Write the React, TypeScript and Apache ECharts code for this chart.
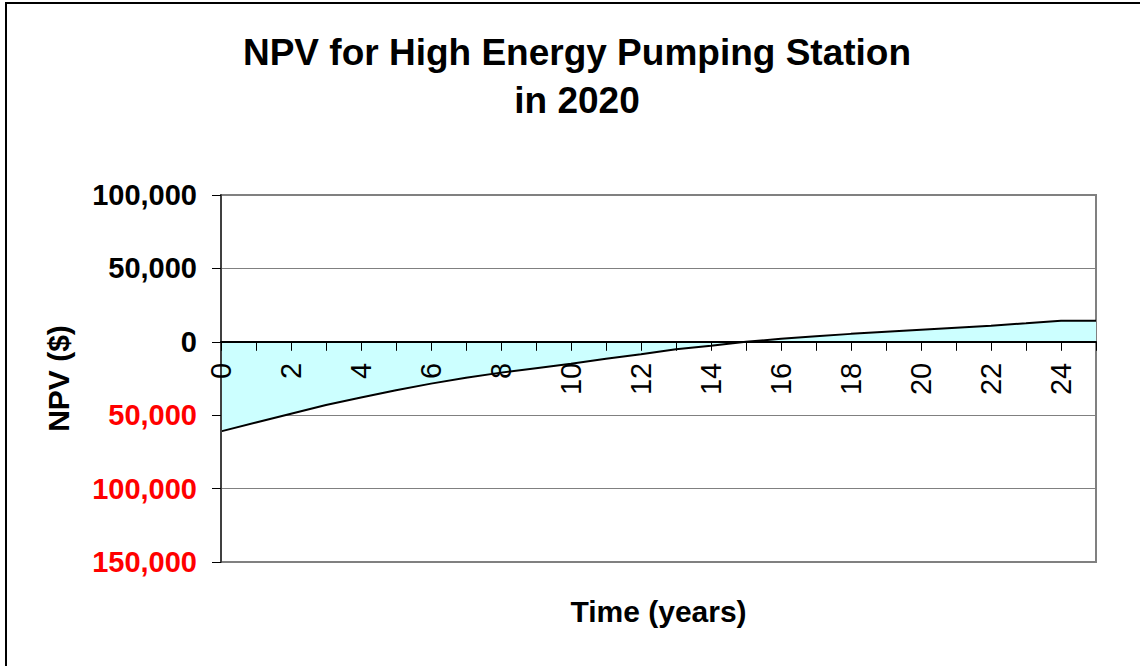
import React, { useEffect, useRef } from "react";
import * as echarts from "echarts";

const years: string[] = [
  "0", "1", "2", "3", "4", "5", "6", "7", "8", "9", "10", "11", "12",
  "13", "14", "15", "16", "17", "18", "19", "20", "21", "22", "23", "24", "25",
];
const npv: number[] = [
  -61000, -55000, -49000, -43000, -38000, -33000, -28500, -24500, -21000,
  -18000, -15000, -11500, -8500, -5000, -2700, 0, 2000, 3700, 5400, 6800,
  8200, 9600, 11000, 12600, 14300, 14300,
];
const yMin = -150000;
const yMax = 100000;
const yStep = 50000;
const titleLines: string[] = ["NPV for High Energy Pumping Station", "in 2020"];

const FONT = "'Liberation Sans', Arial, sans-serif";

// plot geometry
const GRID_TOP = 195;
const GRID_BOTTOM_PX = 562;
const PLOT_H = GRID_BOTTOM_PX - GRID_TOP;
// distance of the zero line above the plot bottom, from the y range
const zeroOffset = (PLOT_H * (0 - yMin)) / (yMax - yMin);

export default function App() {
  const ref = useRef<HTMLDivElement>(null);
  useEffect(() => {
    if (!ref.current) return;
    const chart = echarts.init(ref.current, undefined, { renderer: "svg" });
    chart.setOption({
      animation: false,
      backgroundColor: "#ffffff",
      textStyle: { fontFamily: FONT },
      grid: {
        left: 221,
        top: GRID_TOP,
        right: 44,
        bottom: 666 - GRID_BOTTOM_PX,
        containLabel: false,
        outerBoundsMode: "none",
        show: true,
        borderColor: "#808080",
        borderWidth: 2,
        backgroundColor: "transparent",
      },
      graphic: [
        {
          type: "rect",
          shape: { x: 6, y: 3, width: 1200, height: 720 },
          style: { fill: "none", stroke: "#000", lineWidth: 2 },
          silent: true,
          z: 100,
        },
        {
          type: "text",
          x: 577,
          y: 52,
          style: {
            text: titleLines[0],
            textAlign: "center",
            textVerticalAlign: "middle",
            font: `bold 37px ${FONT}`,
            fill: "#000",
          },
        },
        {
          type: "text",
          x: 577,
          y: 100,
          style: {
            text: titleLines[1],
            textAlign: "center",
            textVerticalAlign: "middle",
            font: `bold 37px ${FONT}`,
            fill: "#000",
          },
        },
      ],
      xAxis: {
        type: "category",
        data: years,
        boundaryGap: false,
        position: "bottom",
        offset: -zeroOffset,
        z: 10,
        name: "Time (years)",
        nameLocation: "middle",
        nameGap: 255,
        nameMoveOverlap: false,
        nameTextStyle: { fontSize: 30, fontWeight: "bold", color: "#000", fontFamily: FONT },
        axisLine: { onZero: false, lineStyle: { color: "#000", width: 2 } },
        axisTick: { show: true, interval: 0, length: 9, lineStyle: { color: "#000", width: 1 } },
        axisLabel: {
          interval: 1,
          rotate: 90,
          margin: 21,
          fontSize: 29,
          color: "#000",
          fontFamily: FONT,
        },
        splitLine: { show: false },
      },
      yAxis: [
        {
          type: "value",
          min: yMin,
          max: yMax,
          interval: yStep,
          position: "left",
          z: 10,
          name: "NPV ($)",
          nameLocation: "middle",
          nameGap: 148,
          nameRotate: 90,
          nameTextStyle: { fontSize: 30, fontWeight: "bold", color: "#000", fontFamily: FONT },
          axisLine: { show: true, onZero: false, lineStyle: { color: "#404040", width: 2 } },
          axisTick: { show: true, length: 9, lineStyle: { color: "#000", width: 1 } },
          axisLabel: {
            margin: 24,
            fontSize: 29,
            fontWeight: "bold",
            fontFamily: FONT,
            color: (v: any) => (Number(v) < 0 ? "#ff0000" : "#000000"),
            formatter: (v: number) => Math.abs(v).toLocaleString("en-US"),
          },
          splitLine: { show: false },
        },
        {
          type: "value",
          min: yMin,
          max: yMax,
          interval: yStep,
          position: "left",
          z: 0,
          axisLine: { show: false },
          axisTick: { show: false },
          axisLabel: { show: false },
          splitLine: { show: true, lineStyle: { color: "#808080", width: 1 } },
        },
      ],
      series: [
        {
          type: "line",
          data: npv,
          yAxisIndex: 0,
          showSymbol: false,
          symbol: "none",
          lineStyle: { color: "#000", width: 2 },
          areaStyle: { color: "#CCFFFF", opacity: 1, origin: 0 },
          z: 2,
        },
      ],
    });
    return () => chart.dispose();
  }, []);
  return (
    <div
      ref={ref}
      style={{ position: "absolute", left: 0, top: 0, width: 1140, height: 666 }}
    />
  );
}
